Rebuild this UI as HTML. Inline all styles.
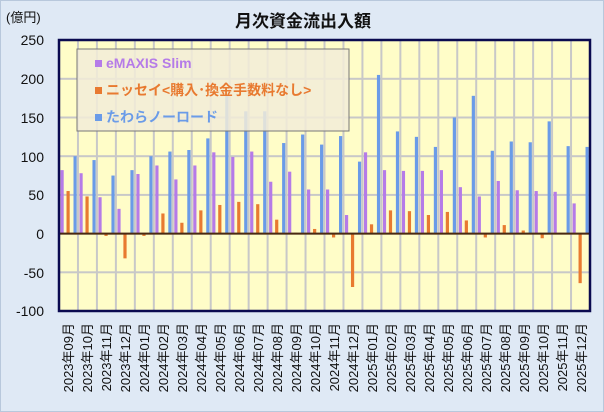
<!DOCTYPE html>
<html><head><meta charset="utf-8"><style>
html,body{margin:0;padding:0;background:#dfe9f5;}
svg{display:block;font-family:"Liberation Sans","Noto Sans CJK JP",sans-serif;}
</style></head><body>
<svg id="c" width="604" height="412" viewBox="0 0 604 412" xmlns="http://www.w3.org/2000/svg">
<rect x="0.5" y="0.5" width="603" height="411" fill="#dfe9f5" stroke="#b8c8dc"/>
<text x="303" y="27" font-size="17" font-weight="bold" text-anchor="middle" fill="#111">月次資金流出入額</text>
<text x="6" y="22" font-size="13" fill="#111">(億円)</text>
<g font-size="14" fill="#111" text-anchor="end">
<text x="44" y="45">250</text><text x="44" y="84">200</text><text x="44" y="123">150</text>
<text x="44" y="162">100</text><text x="44" y="200">50</text><text x="44" y="239">0</text>
<text x="44" y="278">-50</text><text x="44" y="316">-100</text>
</g>
<rect x="59" y="40" width="531" height="271" fill="#fffdc8"/>
<g id="grid" stroke="#c8c8c8" stroke-width="1"></g>
<g id="bars"></g>
<line x1="59" y1="233.6" x2="590" y2="233.6" stroke="#4a2a10" stroke-width="2"/>
<rect x="59" y="40" width="531" height="271" fill="none" stroke="#0a0a50" stroke-width="2.5"/>
<rect x="77" y="49" width="272" height="82" fill="#f2ecd8" fill-opacity="0.85" stroke="#777" stroke-width="1"/>
<rect x="95" y="60" width="7" height="7" fill="#b57be8"/>
<text x="106" y="68" font-size="14" font-weight="bold" fill="#b57be8">eMAXIS Slim</text>
<rect x="95" y="87" width="7" height="7" fill="#e87a30"/>
<text x="106" y="95" font-size="14" font-weight="bold" fill="#e87a30">ニッセイ&lt;購入･換金手数料なし&gt;</text>
<rect x="95" y="114" width="7" height="7" fill="#6a9be8"/>
<text x="106" y="122" font-size="14" font-weight="bold" fill="#6a9be8">たわらノーロード</text>
<g font-size="13" fill="#111" text-anchor="end" id="labels">
<text transform="translate(73,323) rotate(-90)">2023年09月</text>
<text transform="translate(92,323) rotate(-90)">2023年10月</text>
<text transform="translate(111,323) rotate(-90)">2023年11月</text>
<text transform="translate(130,323) rotate(-90)">2023年12月</text>
<text transform="translate(149,323) rotate(-90)">2024年01月</text>
<text transform="translate(168,323) rotate(-90)">2024年02月</text>
<text transform="translate(187,323) rotate(-90)">2024年03月</text>
<text transform="translate(206,323) rotate(-90)">2024年04月</text>
<text transform="translate(225,323) rotate(-90)">2024年05月</text>
<text transform="translate(244,323) rotate(-90)">2024年06月</text>
<text transform="translate(263,323) rotate(-90)">2024年07月</text>
<text transform="translate(282,323) rotate(-90)">2024年08月</text>
<text transform="translate(301,323) rotate(-90)">2024年09月</text>
<text transform="translate(320,323) rotate(-90)">2024年10月</text>
<text transform="translate(339,323) rotate(-90)">2024年11月</text>
<text transform="translate(358,323) rotate(-90)">2024年12月</text>
<text transform="translate(377,323) rotate(-90)">2025年01月</text>
<text transform="translate(396,323) rotate(-90)">2025年02月</text>
<text transform="translate(415,323) rotate(-90)">2025年03月</text>
<text transform="translate(434,323) rotate(-90)">2025年04月</text>
<text transform="translate(453,323) rotate(-90)">2025年05月</text>
<text transform="translate(472,323) rotate(-90)">2025年06月</text>
<text transform="translate(491,323) rotate(-90)">2025年07月</text>
<text transform="translate(510,323) rotate(-90)">2025年08月</text>
<text transform="translate(529,323) rotate(-90)">2025年09月</text>
<text transform="translate(548,323) rotate(-90)">2025年10月</text>
<text transform="translate(567,323) rotate(-90)">2025年11月</text>
<text transform="translate(586,323) rotate(-90)">2025年12月</text>
</g>
</svg>
<script>
var d=[[82,55,100],[78,48,95],[47,-3,75],[32,-32,82],[77,-3,100],[88,26,106],[70,14,108],[88,30,123],[105,37,178],[99,41,158],[106,38,158],[67,18,117],[80,1,128],[57,6,115],[57,-5,126],[24,-69,93],[105,12,205],[82,30,132],[81,29,125],[81,24,112],[82,28,150],[60,17,178],[48,-5,107],[68,11,119],[56,4,118],[55,-6,145],[54,-1,113],[39,-64,112]];
var NS="http://www.w3.org/2000/svg",g=document.getElementById('grid'),b=document.getElementById('bars');
var L=59,W=531/28,Z=233.6,K=0.774;
function el(p,a){var e=document.createElementNS(NS,'rect');for(var k in a)e.setAttribute(k,a[k]);p.appendChild(e);}
for(var v=-100;v<=250;v+=50){var y=Z-v*K;el(g,{x:L,y:y-0.5,width:531,height:1,fill:'#c8c8c8'});}
for(var i=1;i<28;i++){el(g,{x:L+i*W-0.5,y:40,width:1,height:271,fill:'#c8c8c8'});}
var cols=['#b57be8','#e87a30','#6a9be8'],off=[1.5,7.5,14.5];
d.forEach(function(r,i){r.forEach(function(v,j){var h=Math.abs(v)*K,y=v>=0?Z-h:Z;el(b,{x:L+i*W+off[j],y:y,width:3.2,height:Math.max(h,0.5),fill:cols[j]});});});
</script>
</body></html>
